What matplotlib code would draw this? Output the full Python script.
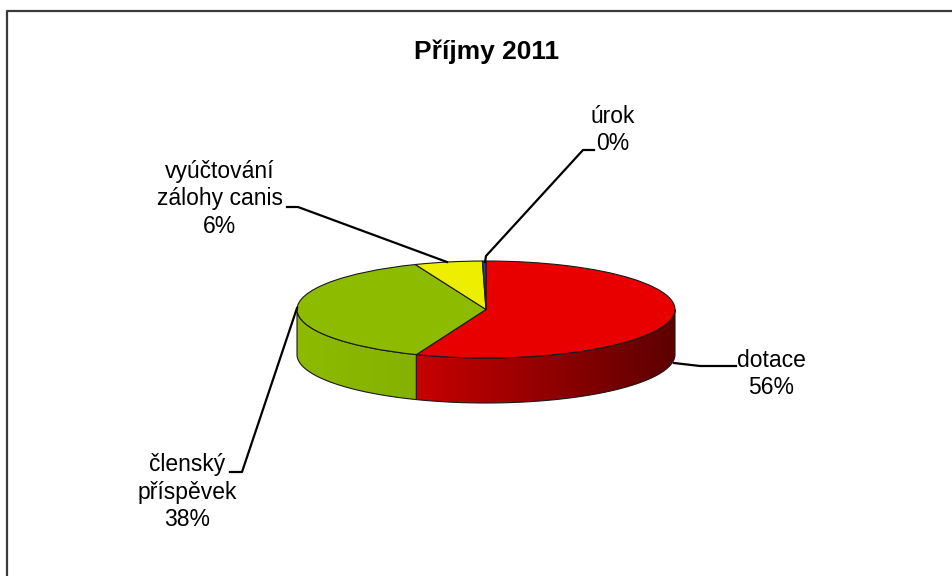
import numpy as np
import matplotlib
matplotlib.use('Agg')
import matplotlib.pyplot as plt
from matplotlib.patches import Polygon
from matplotlib.lines import Line2D
from matplotlib.colors import to_rgb

# ---- data ----
categories = ['dotace', 'členský\npříspěvek', 'vyúčtování\nzálohy canis', 'úrok']
values = [56.0, 37.9, 5.8, 0.3]
colors = ['#e80000', '#8cbb00', '#eeee00', '#1f3f9f']
side_shade = [(0.86, 0.40), (1.0, 0.95), (0.9, 0.8), (0.8, 0.7)]
title = 'Příjmy 2011'

plt.rcParams['font.family'] = ['Liberation Sans', 'DejaVu Sans']

W, H = 953, 576
fig = plt.figure(figsize=(W / 100, H / 100), dpi=100)
fig.patch.set_facecolor('white')

# pie geometry (pixels)
cx_px, cy_px = 486.0, 309.5
a_px, b_px = 189.0, 48.5
depth = 45.0 / b_px

ax = fig.add_axes([0, 0, 1, 1])

wedges, _ = ax.pie(values, colors=colors, startangle=90, counterclock=False,
                   radius=1,
                   wedgeprops=dict(edgecolor='#1a1a1a', linewidth=0.8, zorder=3))

# side (depth) of the 3D pie
total = float(sum(values))
start = 90.0
cum = 0.0
for i, v in enumerate(values):
    t1 = start - cum / total * 360.0
    cum += v
    t2 = start - cum / total * 360.0
    lo, hi = max(t2, -180.0), min(t1, 0.0)
    if hi <= lo:
        continue
    t = np.radians(np.linspace(lo, hi, 200))
    xs = np.cos(t)
    top = np.column_stack([xs, np.sin(t)])
    bot = np.column_stack([xs, np.sin(t) - depth])
    poly = Polygon(np.vstack([top, bot[::-1]]), closed=True, facecolor='none',
                   edgecolor='#1a1a1a', linewidth=0.8, zorder=2)
    ax.add_patch(poly)
    xmin, xmax = xs.min(), xs.max()
    gx = np.linspace(0, 1, 256)
    f = side_shade[i][0] + (side_shade[i][1] - side_shade[i][0]) * gx
    base = np.array(to_rgb(colors[i]))
    img = np.clip(base[None, :] * f[:, None], 0, 1)[None, :, :].repeat(2, axis=0)
    im = ax.imshow(img, extent=(xmin, xmax, -1 - depth, 1), aspect='auto',
                   interpolation='bilinear', zorder=1)
    im.set_clip_path(poly)

ax.set_aspect('auto')
ax.set_xlim(-cx_px / a_px, (W - cx_px) / a_px)
ax.set_ylim(-(H - cy_px) / b_px, cy_px / b_px)
ax.axis('off')


def fx(x):
    return x / W


def fy(y):
    return 1 - y / H


# frame
fig.add_artist(Line2D([fx(6.5), fx(6.5), fx(W)], [fy(H), fy(10.5), fy(10.5)],
                      color='#3a3a3a', linewidth=1.6))

# title
fig.text(fx(487), fy(52), title, ha='center', va='center', fontsize=19,
         fontweight='bold', color='black')

# labels
pcts = [int(round(v / total * 100)) for v in values]
label_pos = [(771, 374), (187, 492), (220, 199), (613, 130)]
leaders = [
    [(674, 363), (700, 366), (736, 366)],
    [(230, 472), (242, 472), (297, 308)],
    [(287, 207), (298, 207), (447, 262)],
    [(485, 262), (486, 256), (583, 150), (594, 150)],
]
for name, p, (lx, ly), ld in zip(categories, pcts, label_pos, leaders):
    fig.text(fx(lx), fy(ly), f'{name}\n{p}%', ha='center', va='center',
             fontsize=16.5, linespacing=1.25, color='black')
    xs = [fx(q[0]) for q in ld]
    ys = [fy(q[1]) for q in ld]
    fig.add_artist(Line2D(xs, ys, color='black', linewidth=1.6, zorder=5))

fig.savefig('out.png', dpi=100, facecolor='white')
